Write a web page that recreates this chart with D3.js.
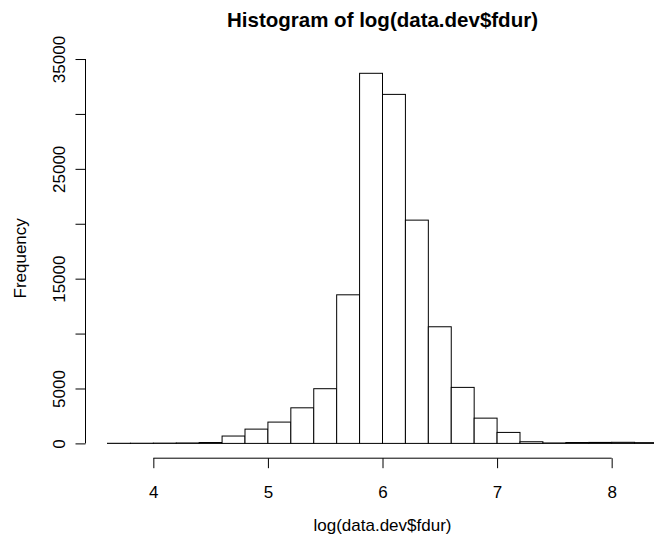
<!DOCTYPE html>
<html>
<head>
<meta charset="utf-8">
<script src="https://cdn.jsdelivr.net/npm/d3@7"></script>
<style>
  body { margin: 0; background: #fff; }
  text { font-family: "Liberation Sans", Arial, sans-serif; fill: #000; }
</style>
</head>
<body>
<div id="chart"></div>
<script>
// histogram data (bin width 0.2)

var binStarts = [3.6, 3.8, 4.0, 4.2, 4.4, 4.6, 4.8, 5.0, 5.2, 5.4, 5.6, 5.8,
                 6.0, 6.2, 6.4, 6.6, 6.8, 7.0, 7.2, 7.4, 7.6, 7.8, 8.0, 8.2];
var binWidth = 0.2;
var counts = [10, 15, 25, 40, 80, 670, 1300, 1940, 3240, 4980, 13530, 33700,
              31780, 20330, 10620, 5100, 2300, 1000, 150, 40, 80, 90, 100, 70];
var xTicks = [4, 5, 6, 7, 8];
var yTicks = [0, 5000, 10000, 15000, 20000, 25000, 30000, 35000];
var yLabels = [0, 5000, 15000, 25000, 35000];

var w = 654,
    h = 543,
    svg = d3.select("#chart")
            .append("svg")
            .attr("width", w)
            .attr("height", h);

// plot region (R style: ranges padded by 4%)
var plotLeft = 85.5, plotRight = 679.5, plotTop = 58.5, plotBottom = 458.2;

var xmin = binStarts[0], xmax = binStarts[binStarts.length - 1] + binWidth;
var xpad = (xmax - xmin) * 0.04;
var x = d3.scaleLinear()
    .domain([xmin - xpad, xmax + xpad])
    .range([plotLeft, plotRight]);

var ymax = d3.max(counts);
var y = d3.scaleLinear()
    .domain([-0.04 * ymax, 1.04 * ymax])
    .range([plotBottom, plotTop]);

// bars
svg.append("g")
    .selectAll("rect")
    .data(counts)
    .enter().append("rect")
    .attr("x", function(d, i) { return x(binStarts[i]); })
    .attr("y", function(d) { return y(d); })
    .attr("width", function(d, i) { return x(binStarts[i] + binWidth) - x(binStarts[i]); })
    .attr("height", function(d) { return y(0) - y(d); })
    .attr("fill", "#fff")
    .attr("stroke", "#000")
    .attr("stroke-width", 1);

// x axis
var xa = svg.append("g")
    .attr("transform", "translate(0," + plotBottom + ")")
    .call(d3.axisBottom(x).tickValues(xTicks).tickSize(10).tickPadding(18)
        .tickFormat(d3.format("d")));
xa.select(".domain").remove();
xa.append("line")
    .attr("x1", x(xTicks[0])).attr("x2", x(xTicks[xTicks.length - 1]))
    .attr("stroke", "#000");
xa.selectAll("text").attr("font-size", 17).attr("font-family", null);

// y axis
var ya = svg.append("g")
    .attr("transform", "translate(" + plotLeft + ",0)")
    .call(d3.axisLeft(y).tickValues(yTicks).tickSize(10)
        .tickFormat(function(d) { return yLabels.indexOf(d) >= 0 ? d : ""; }));
ya.select(".domain").remove();
ya.append("line")
    .attr("y1", y(yTicks[0])).attr("y2", y(yTicks[yTicks.length - 1]))
    .attr("stroke", "#000");
ya.selectAll("text")
    .attr("font-size", 17)
    .attr("font-family", null)
    .attr("x", null).attr("dy", null)
    .attr("text-anchor", "middle")
    .attr("transform", "translate(-21,0) rotate(-90)");

// titles
svg.append("text")
    .attr("x", (plotLeft + plotRight) / 2)
    .attr("y", 27)
    .attr("text-anchor", "middle")
    .attr("font-size", 20.5)
    .attr("font-weight", "bold")
    .text("Histogram of log(data.dev$fdur)");

svg.append("text")
    .attr("x", (plotLeft + plotRight) / 2)
    .attr("y", 531)
    .attr("text-anchor", "middle")
    .attr("font-size", 17)
    .text("log(data.dev$fdur)");

svg.append("text")
    .attr("transform", "translate(26," + (plotTop + plotBottom) / 2 + ") rotate(-90)")
    .attr("text-anchor", "middle")
    .attr("font-size", 17)
    .text("Frequency");
</script>
</body>
</html>
